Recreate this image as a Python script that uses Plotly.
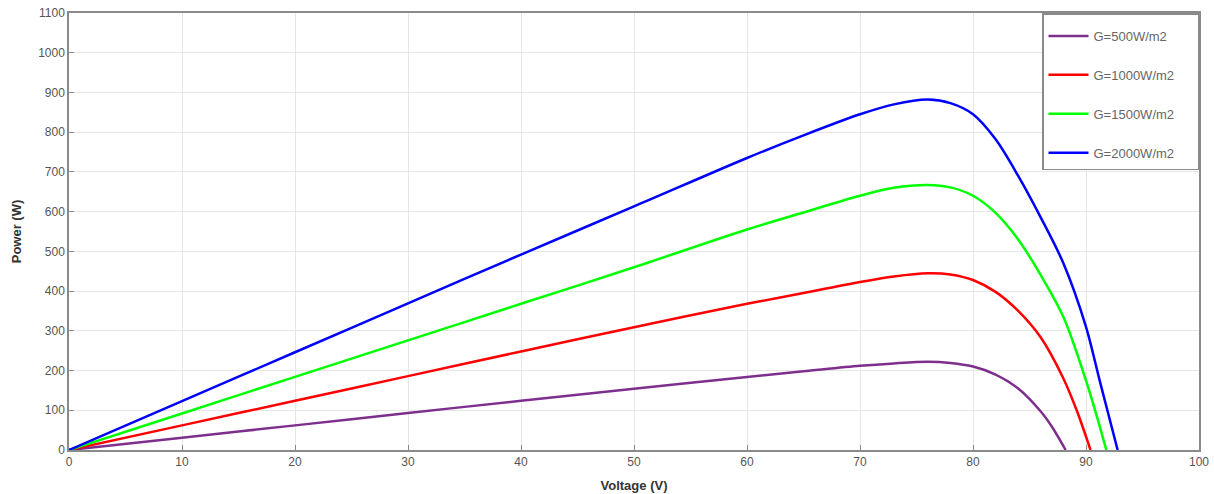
import plotly.graph_objects as go

# ---- data ----
v_500 = [0, 10, 20, 30, 40, 50, 60, 65, 70, 73, 76, 78, 80, 82, 84, 86, 87, 88.2]
p_500 = [0, 31, 62, 93, 124, 154, 184, 198, 212, 218, 222, 219, 210, 190, 155, 97, 58, 0]

v_1000 = [0, 10, 20, 30, 40, 50, 60, 65, 70, 73, 76, 78, 80, 82, 84, 86, 88, 89.2, 90.4]
p_1000 = [0, 62, 124, 186, 248, 309, 368, 395, 423, 437, 445, 442, 428, 398, 350, 283, 180, 98, 0]

v_1500 = [0, 10, 20, 30, 40, 50, 60, 65, 70, 73, 76, 78, 80, 82, 84, 86, 88, 90, 91.8]
p_1500 = [0, 92, 184, 276, 368, 460, 555, 598, 640, 660, 667, 661, 640, 597, 530, 440, 335, 175, 0]

v_2000 = [0, 10, 20, 30, 40, 50, 60, 65, 70, 73, 76, 78, 80, 82, 84, 86, 88, 90, 91.2, 92.8]
p_2000 = [0, 123, 246, 369, 492, 613, 735, 792, 845, 870, 882, 873, 845, 782, 690, 585, 470, 310, 176, 0]

labels = ["G=500W/m2", "G=1000W/m2", "G=1500W/m2", "G=2000W/m2"]
colors = ["#7E2F8E", "#FF0000", "#00FF00", "#0000FF"]

x_ticks = list(range(0, 101, 10))
y_ticks = list(range(0, 1101, 100))

series = [(v_500, p_500), (v_1000, p_1000), (v_1500, p_1500), (v_2000, p_2000)]

PAD = "\u00a0" * 5  # widen the legend box like the reference

fig = go.Figure()
for i, ((v, p), name, c) in enumerate(zip(series, labels, colors)):
    fig.add_trace(go.Scatter(
        x=v, y=p, mode="lines", name=name + PAD, legendgroup=f"g{i}",
        line=dict(color=c, width=2.5, shape="spline", smoothing=0.9),
    ))

axis_common = dict(
    showline=True, linecolor="#8a8a8a", linewidth=1.5, mirror=True,
    showgrid=True, gridcolor="#e6e6e6", gridwidth=1,
    ticks="inside", ticklen=5, tickcolor="#8a8a8a",
    zeroline=False, automargin=False, ticklabeloverflow="allow",
    tickfont=dict(family="Liberation Sans, Arial", size=12, color="#555555"),
)

fig.update_layout(
    width=1214, height=494,
    margin=dict(l=69, r=15, t=13, b=44),
    paper_bgcolor="white", plot_bgcolor="white",
    xaxis=dict(range=[0, 100], tickvals=x_ticks,
               title=dict(text="<b>Voltage (V)</b>", standoff=13,
                          font=dict(family="Liberation Sans, Arial", size=13, color="#333333")),
               **axis_common),
    yaxis=dict(range=[0, 1100], tickvals=y_ticks,
               title=dict(text="<b>Power (W)</b>", standoff=14,
                          font=dict(family="Liberation Sans, Arial", size=13, color="#333333")),
               **axis_common),
    legend=dict(
        x=1.0, y=1.0, xanchor="right", yanchor="top",
        bgcolor="white", bordercolor="#8a8a8a", borderwidth=1.5,
        font=dict(family="Liberation Sans, Arial", size=13, color="#666666"),
        title=dict(text="\u00a0", font=dict(size=5)),
        tracegroupgap=19, itemwidth=40,
    ),
    showlegend=True,
)

fig.write_html("out.html", config={"displayModeBar": False},
               post_script="document.body.style.margin='0';")
